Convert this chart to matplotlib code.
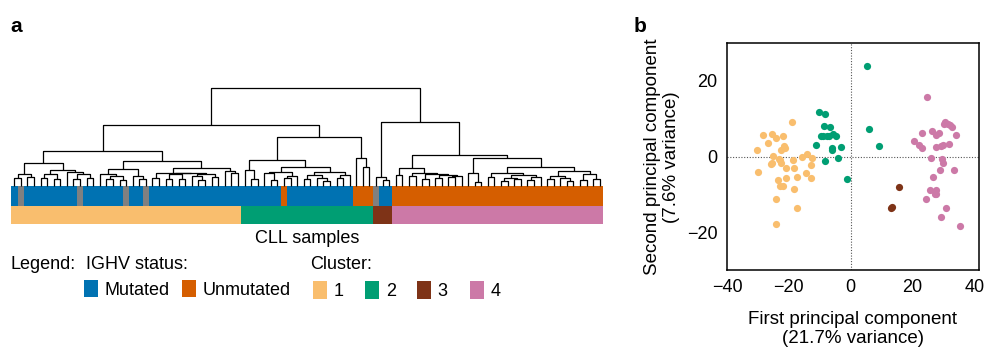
import re
import numpy as np
import matplotlib
matplotlib.use("Agg")
import matplotlib.pyplot as plt
from matplotlib.colors import to_rgb
from matplotlib.patches import Rectangle

plt.rcParams['font.family'] = ['Liberation Sans', 'DejaVu Sans']

W, H = 991, 349

# ---- dendrogram (bracket notation: x = leaf, "):h" = merge height) ----
tree_c1 = ("((((x,x):8,(x,x):8.3):11.7,(((x,x):8,(x,x):7):11.7,(x,((x,x):7,(x,x):8):12):14):15.7):22.3,"
           "(((x,((x,x):7,(x,x):6):9.5):11.7,(x,(x,x):6.7):10):16.3,"
           "(((x,x):8,(((x,x):7,(x,x):6.5):11.5,((x,(x,x):6):10,(x,x):9):11.8):12.1):12.3,"
           "(x,(x,x):12.7):14.3):17.7):25):35")
tree_c2 = ("(((x,(x,x):6.7):16,(((x,(x,x):6):12.7,((x,x):7.7,x):9.5):14,"
           "(((x,x):7,(x,(x,x):5):7.7):10.5,((x,x):8,x):11):13.5):18.3):25.7,"
           "(x,(x,x):19):27.7):49")
tree_c3 = "(x,(x,x):6):8.3"
tree_c4 = ("(((x,x):10.7,((x,x):9.7,((x,x):7,((x,x):8,((x,x):9,x):10):11):12):12.7):17.7,"
           "((x,(x,x):3.3):12.7,(((x,x):9,(((x,x):5,(x,x):7):8,((x,x):6,x):9):11):12.7,"
           "(((x,x):7,(x,(x,x):5):8):10,((x,x):6,(x,x):7):11.7):14.3):19):27.3):31")
join_heights = [61, 63.3, 98]   # (c1,c2), (c3,c4), root

cluster_sizes = [35, 20, 3, 32]
cluster_names = ["1", "2", "3", "4"]
cluster_colors = ["#F9BE6E", "#009E73", "#7E3317", "#CC79A7"]

# M = mutated, U = unmutated, N = not available (leaf order)
ighv_status = ("M N MMMMMMMM N MMMMMM N MM N MMMMM MMMMM MMMMM MMMMM U MMMMM MMMMM "
               "UUU N MM UUUUUUUU UUUUUUUU UUUUUUUU UUUUUUUU").replace(" ", "")
ighv_colors = {"M": "#0072B2", "U": "#D55E00", "N": "#808080"}

# ---- PCA scores ----
pc1_c1 = [-30.3, -29.9, -28.2, -26.7, -25.4, -24.2, -22.0, -19.1, -21.5, -21.3, -22.5, -25.9,
          -25.4, -25.2, -23.3, -23.0, -22.6, -20.8, -18.5, -18.3, -23.4, -20.9, -22.7, -22.0,
          -18.3, -17.4, -15.6, -14.2, -12.6, -12.7, -14.4, -12.7, -24.1, -17.2, -24.1]
pc2_c1 = [1.8, -4.2, 5.7, 3.7, 6.0, 4.9, 5.5, 9.2, 2.9, 2.3, 1.8, -1.9,
          -1.7, 0.2, -0.6, -1.0, -1.7, -3.0, -0.8, -3.0, -6.3, -5.7, -7.9, -7.9,
          -8.5, -5.4, -0.1, 0.6, -0.3, -2.2, -4.4, -5.7, -11.2, -13.7, -17.8]
pc1_c2 = [-10.2, -8.3, -8.5, -6.7, -9.7, -8.8, -7.7, -7.1, -5.6, -4.9, -11.2, -5.9,
          -6.2, -3.2, -8.3, -4.2, -1.1, 5.2, 6.0, 9.0]
pc2_c2 = [11.7, 11.2, 8.1, 7.8, 5.3, 5.3, 5.5, 5.3, 5.9, 5.5, 3.0, 2.3,
          1.8, 2.6, -1.3, -0.3, -5.9, 23.8, 7.2, 2.7]
pc1_c3 = [15.6, 13.5, 13.2]
pc2_c3 = [-8.0, -13.4, -13.7]
pc1_c4 = [24.8, 30.6, 30.1, 31.4, 32.0, 32.8, 23.0, 26.2, 27.5, 28.7, 34.0, 20.6,
          22.2, 23.2, 27.7, 29.1, 29.7, 31.8, 26.0, 29.4, 29.7, 28.9, 33.3, 26.6,
          25.5, 27.6, 27.3, 27.7, 24.5, 30.8, 29.2, 35.2]
pc2_c4 = [15.6, 9.0, 8.5, 8.5, 8.2, 7.9, 6.3, 6.7, 5.7, 6.2, 5.8, 4.0,
          3.1, 2.3, 2.5, 2.7, 3.0, 3.4, -0.3, -0.6, -1.7, -3.6, -3.6, -5.3,
          -8.9, -8.9, -9.9, -10.0, -11.3, -13.6, -15.9, -18.3]


def px(x0, y0, x1, y1):
    """figure-pixel box (top-left origin) -> axes rect"""
    return [x0 / W, 1 - y1 / H, (x1 - x0) / W, (y1 - y0) / H]


fig = plt.figure(figsize=(W / 100, H / 100), dpi=100)

# ---------------- panel a: dendrogram + colour bars ----------------
ax = fig.add_axes(px(11, 86, 603, 224))
full_tree = "(({},{}):{},({},{}):{}):{}".format(tree_c1, tree_c2, join_heights[0],
                                                tree_c3, tree_c4, join_heights[1], join_heights[2])
segs_x, segs_y = [], []
counter = [0]


def parse(s, pos):
    if s[pos] == "x":
        i = counter[0]
        counter[0] += 1
        return (float(i), 0.0), pos + 1
    pos += 1
    kids = []
    while True:
        node, pos = parse(s, pos)
        kids.append(node)
        ch = s[pos]
        pos += 1
        if ch == ")":
            break
    m = re.match(r":([0-9.]+)", s[pos:])
    h = float(m.group(1))
    pos += len(m.group(0))
    for kx, kh in kids:
        segs_x.extend([kx, kx, None])
        segs_y.extend([kh, h, None])
    segs_x.extend([kids[0][0], kids[-1][0], None])
    segs_y.extend([h, h, None])
    return (np.mean([k[0] for k in kids]), h), pos


parse(full_tree, 0)
n_leaves = counter[0]
ax.plot(segs_x, segs_y, color="black", lw=0.9, solid_capstyle="butt")

leaf_cluster = np.repeat(np.arange(len(cluster_sizes)), cluster_sizes)
row_ighv = np.array([[to_rgb(ighv_colors[c]) for c in ighv_status]])
row_clus = np.array([[to_rgb(cluster_colors[k]) for k in leaf_cluster]])
ax.imshow(row_ighv, extent=(-0.5, n_leaves - 0.5, -20.5, -0.5), aspect="auto", interpolation="nearest")
ax.imshow(row_clus, extent=(-0.5, n_leaves - 0.5, -38.5, -20.5), aspect="auto", interpolation="nearest")
ax.set_xlim(-0.5, n_leaves - 0.5)
ax.set_ylim(-38.5, 99.5)
ax.axis("off")

# legend / annotations on an overlay in pixel units
ov = fig.add_axes([0, 0, 1, 1])
ov.set_xlim(0, W)
ov.set_ylim(H, 0)
ov.axis("off")
fs = 13
ov.text(307, 243, "CLL samples", ha="center", va="baseline", fontsize=fs)
ov.text(10, 269, "Legend:", va="baseline", fontsize=fs)
ov.text(86, 269, "IGHV status:", va="baseline", fontsize=fs)
ov.text(310, 269, "Cluster:", va="baseline", fontsize=fs)
for x0, key, label in [(83.5, "M", "Mutated"), (182, "U", "Unmutated")]:
    ov.add_patch(Rectangle((x0, 279.5), 14, 17.5, color=ighv_colors[key], lw=0))
    ov.text(x0 + 20.5, 295, label, va="baseline", fontsize=fs)
for x0, col, name in zip([312.7, 365, 416.7, 470], cluster_colors, cluster_names):
    ov.add_patch(Rectangle((x0, 280.7), 14, 18, color=col, lw=0))
    ov.text(x0 + 21, 296, name, va="baseline", fontsize=fs)
ov.text(10, 32, "a", va="baseline", fontsize=15, fontweight="bold")
ov.text(634, 32, "b", va="baseline", fontsize=15, fontweight="bold")

# ---------------- panel b: PCA ----------------
ax2 = fig.add_axes(px(727, 43, 979, 270))
ax2.axhline(0, color="#555555", lw=0.8, ls=(0, (1, 1.5)), zorder=1)
ax2.axvline(0, color="#555555", lw=0.8, ls=(0, (1, 1.5)), zorder=1)
for xs, ys, col in [(pc1_c1, pc2_c1, cluster_colors[0]), (pc1_c2, pc2_c2, cluster_colors[1]),
                    (pc1_c3, pc2_c3, cluster_colors[2]), (pc1_c4, pc2_c4, cluster_colors[3])]:
    ax2.scatter(xs, ys, s=27, color=col, linewidths=0, zorder=2)
ax2.set_xlim(-40, 41.5)
ax2.set_ylim(-30, 30)
ax2.set_xticks([-40, -20, 0, 20, 40])
ax2.set_yticks([-20, 0, 20])
ax2.tick_params(length=0, labelsize=13)
ax2.tick_params(axis="x", pad=6.5)
ax2.tick_params(axis="y", pad=7)
for sp in ax2.spines.values():
    sp.set_linewidth(1.1)
ov.text(853, 329, "First principal component\n(21.7% variance)", ha="center", va="center",
        fontsize=13.5, linespacing=1.2)
ov.text(662, 157, "Second principal component\n(7.6% variance)", ha="center", va="center",
        rotation=90, fontsize=13.5, linespacing=1.2)

fig.savefig("out.png", dpi=100)
